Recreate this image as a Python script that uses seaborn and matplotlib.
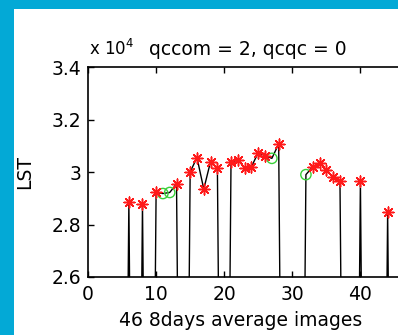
import numpy as np
import pandas as pd
import matplotlib
matplotlib.use("Agg")
import matplotlib.pyplot as plt
import seaborn as sns
from matplotlib.patches import Rectangle


# DATA (LST in units of 1e4, 0 = no valid observation)

days = list(range(1, 47))
lst = [0, 0, 0, 0, 0, 2.885, 0, 2.878, 0, 2.922,
       2.918, 2.922, 2.955, 0, 3.000, 3.055, 2.935, 3.040, 3.015, 0,
       3.037, 3.046, 3.016, 3.020, 3.074, 3.062, 3.052, 3.107, 0, 0,
       0, 2.990, 3.020, 3.035, 3.008, 2.980, 2.966, 0, 0, 2.966,
       0, 0, 0, 2.848, 0, 0]

star_days = [6, 8, 10, 13, 15, 16, 17, 18, 19, 21, 22, 23, 24, 25, 26, 28,
             33, 34, 35, 36, 37, 40, 44]
circle_days = [11, 12, 27, 32]

yticks = [2.6, 2.8, 3.0, 3.2, 3.4]
ytick_labels = ["2.6", "2.8", "3", "3.2", "3.4"]
xticks = [0, 10, 20, 30, 40]


# BUILD TABLES

df = pd.DataFrame({"day": days, "lst": lst})
stars = df[df["day"].isin(star_days)]
circles = df[df["day"].isin(circle_days)]


# PLOT

sns.set_style("ticks")
plt.rcParams["font.family"] = ["DejaVu Sans"]
plt.rcParams["font.size"] = 13.5
plt.rcParams["text.color"] = "black"
plt.rcParams["axes.labelcolor"] = "black"

fig = plt.figure(figsize=(3.98, 3.35), dpi=100, facecolor="#03A9D6")
fig.patches.append(Rectangle((14 / 398, 0), 1, (335 - 9) / 335,
                             transform=fig.transFigure, facecolor="white",
                             edgecolor="none", zorder=-1))

# axes run past the right edge of the picture (cropped screenshot)
ax_w = 47 * 6.81
ax = fig.add_axes([88 / 398, 58 / 335, ax_w / 398, 210 / 335])
ax.set_facecolor("white")

sns.lineplot(data=df, x="day", y="lst", color="black", lw=1.0,
             estimator=None, sort=False, ax=ax)
sns.scatterplot(data=circles, x="day", y="lst", marker="o", s=55,
                facecolor="none", edgecolor="#3ad13a", linewidth=1.0,
                ax=ax, zorder=3)
sns.scatterplot(data=stars, x="day", y="lst", marker=(8, 2, 0), s=60,
                color="#ff1a1a", edgecolor="#ff1a1a", linewidth=1.1,
                ax=ax, zorder=4)

ax.set_xlim(0, 47)
ax.set_ylim(2.6, 3.4)
ax.set_xticks(xticks)
ax.set_yticks(yticks)
ax.set_yticklabels(ytick_labels)

for s in ax.spines.values():
    s.set_linewidth(1.2)
    s.set_color("black")

ax.tick_params(direction="in", length=4, width=1, top=True, right=True,
               labelsize=13.5, colors="black")
ax.tick_params(axis="x", pad=6)
ax.tick_params(axis="y", pad=5)

ax.set_xlabel("46 8days average images", fontsize=13.5)
ax.xaxis.label.set_va("baseline")
ax.xaxis.set_label_coords((241 - 88) / ax_w, -0.233)
ax.set_ylabel("LST", fontsize=13.5)
ax.yaxis.set_label_coords((34 - 88) / ax_w, 0.5)

ax.set_title("qccom = 2, qcqc = 0", fontsize=13.5, pad=8.5)
ax.text(1 / ax_w, 1 + 12 / 210, "x 10$^{4}$", transform=ax.transAxes,
        fontsize=12, ha="left", va="baseline")

fig.savefig("out.png", dpi=100, facecolor=fig.get_facecolor())
